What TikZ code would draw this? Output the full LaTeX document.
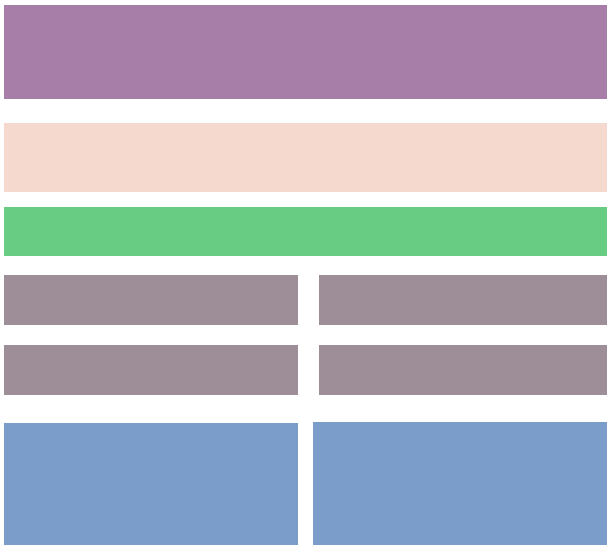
\documentclass[tikz,border=0pt]{standalone}
\usepackage{tikz}
\usepackage{xcolor}
\usetikzlibrary{positioning}

\definecolor{bandpurple}{HTML}{A67EA8}
\definecolor{bandpeach}{HTML}{F5D9CF}
\definecolor{bandgreen}{HTML}{68CC83}
\definecolor{bandgray}{HTML}{9E8E98}
\definecolor{bandblue}{HTML}{7B9DC9}

\tikzset{
    band/.style={draw=none}
}

\begin{document}
\begin{tikzpicture}[x=1pt, y=-1pt]
                        \useasboundingbox (0, 0) rectangle (613, 551);
                        \fill[white] (0, 0) rectangle (613, 551);
                        % full-width bands
                        \fill[band, bandpurple] (4, 5) -- (607, 5) -- (607, 99) -- (4, 99) -- cycle;
                        \fill[band, bandpeach] (4, 123) -- (607, 123) -- (607, 192) -- (4, 192) -- cycle;
                        \fill[band, bandgreen] (4, 207) -- (607, 207) -- (607, 256) -- (4, 256) -- cycle;
                        % split rows
                        \foreach \top/\bot in {275/325, 345/395} {
                            \fill[band, bandgray] (4, \top) -- (298, \top) -- (298, \bot) -- (4, \bot) -- cycle;
                            \fill[band, bandgray] (319, \top) -- (607, \top) -- (607, \bot) -- (319, \bot) -- cycle;
                        }
                        \fill[band, bandblue] (4, 423) -- (298, 423) -- (298, 545) -- (4, 545) -- cycle;
                        \fill[band, bandblue] (313, 422) -- (607, 422) -- (607, 545) -- (313, 545) -- cycle;
                    \end{tikzpicture}
\end{document}
